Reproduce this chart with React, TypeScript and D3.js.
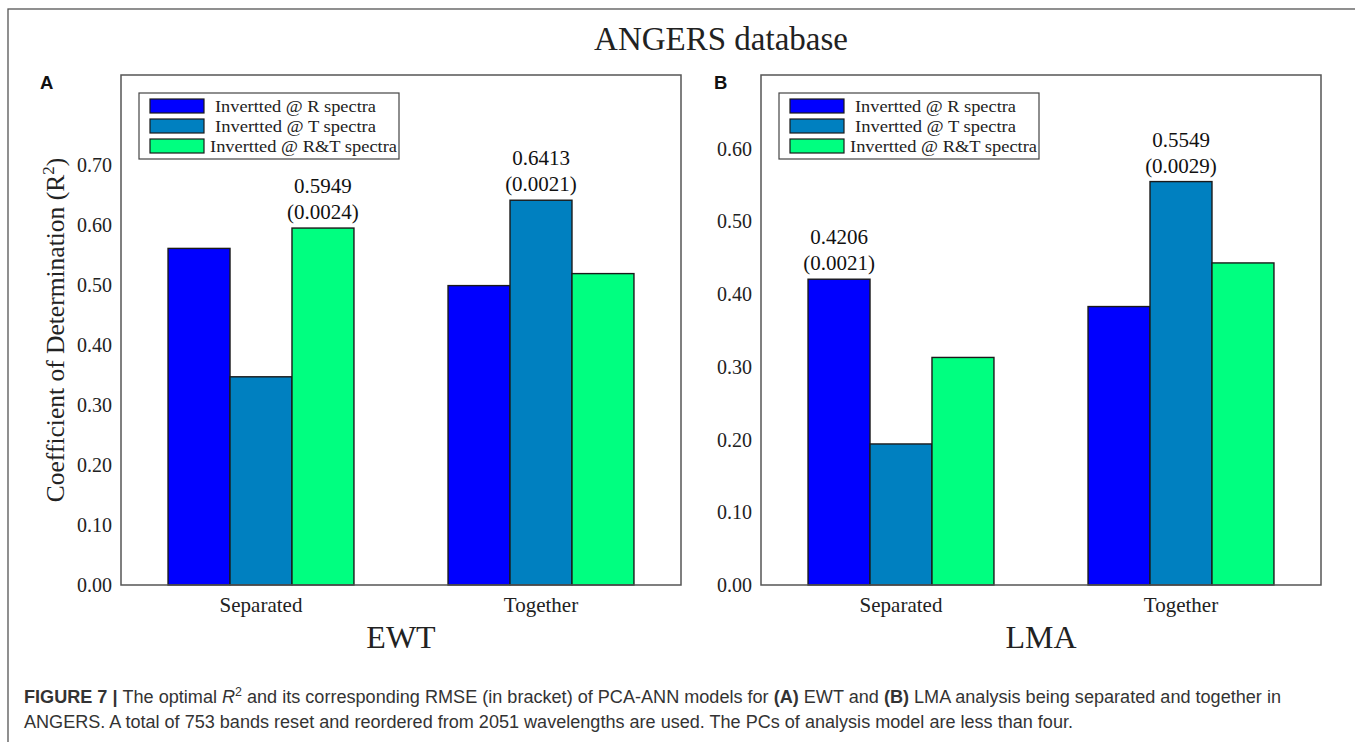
import * as d3 from 'd3';

const groups = ['Separated', 'Together'];
const seriesNames = ['Invertted @ R spectra', 'Invertted @ T spectra', 'Invertted @ R&T spectra'];
const seriesColors = ['#0000ff', '#0080c0', '#00ff80'];

// EWT (panel A), one array per series, values by group
const ewtR = [0.561, 0.499];
const ewtT = [0.347, 0.6413];
const ewtRT = [0.5949, 0.519];

// LMA (panel B)
const lmaR = [0.4206, 0.383];
const lmaT = [0.194, 0.5549];
const lmaRT = [0.313, 0.443];

const ewtTicks = [0, 0.1, 0.2, 0.3, 0.4, 0.5, 0.6, 0.7];
const lmaTicks = [0, 0.1, 0.2, 0.3, 0.4, 0.5, 0.6];

// labels above bars: group index, series index, R2, RMSE
const ewtNotes = [
  { g: 0, s: 2, r2: '0.5949', rmse: '(0.0024)' },
  { g: 1, s: 1, r2: '0.6413', rmse: '(0.0021)' },
];
const lmaNotes = [
  { g: 0, s: 0, r2: '0.4206', rmse: '(0.0021)' },
  { g: 1, s: 1, r2: '0.5549', rmse: '(0.0029)' },
];

const W = 1355;
const H = 742;
const serif = '"Liberation Serif", "Times New Roman", serif';
const sans = '"Liberation Sans", Arial, sans-serif';

interface PanelProps {
  left: number;
  letter: string;
  letterX: number;
  name: string;
  values: number[][];
  yMax: number;
  ticks: number[];
  notes: { g: number; s: number; r2: string; rmse: string }[];
  yTitle?: boolean;
}

const Panel = ({ left, letter, letterX, name, values, yMax, ticks, notes, yTitle }: PanelProps) => {
  const top = 75;
  const pw = 560;
  const ph = 510;

  const y = d3.scaleLinear().domain([0, yMax]).range([ph, 0]);
  const x0 = d3.scaleBand<string>().domain(groups).range([0, pw]).paddingInner(0.336).paddingOuter(0.168);
  const x1 = d3.scaleBand<string>().domain(seriesNames).range([0, x0.bandwidth()]);
  const fmt = d3.format('.2f');

  return (
    <g transform={`translate(${left},${top})`}>
      <text x={letterX} y={14} fontFamily={sans} fontWeight="bold" fontSize={18.5} fill="#111">
        {letter}
      </text>

      {ticks.map((t) => (
        <text
          key={t}
          x={-9}
          y={y(t)}
          dy="0.35em"
          textAnchor="end"
          fontFamily={serif}
          fontSize={20}
          fill="#222"
        >
          {fmt(t)}
        </text>
      ))}

      {groups.map((g, gi) => (
        <g key={g} transform={`translate(${x0(g)},0)`}>
          {seriesNames.map((s, si) => (
            <rect
              key={s}
              x={x1(s)}
              y={y(values[si][gi])}
              width={x1.bandwidth()}
              height={ph - y(values[si][gi])}
              fill={seriesColors[si]}
              stroke="#1a1a1a"
              strokeWidth={1.4}
            />
          ))}
          <text
            x={x0.bandwidth() / 2}
            y={ph + 27}
            textAnchor="middle"
            fontFamily={serif}
            fontSize={21}
            fill="#222"
          >
            {g}
          </text>
        </g>
      ))}

      {notes.map((n) => {
        const cx = (x0(groups[n.g]) ?? 0) + (x1(seriesNames[n.s]) ?? 0) + x1.bandwidth() / 2;
        const ty = y(values[n.s][n.g]);
        return (
          <g key={n.r2} fontFamily={serif} fontSize={21} fill="#111" textAnchor="middle">
            <text x={cx} y={ty - 35}>{n.r2}</text>
            <text x={cx} y={ty - 9}>{n.rmse}</text>
          </g>
        );
      })}

      <rect x={0} y={0} width={pw} height={ph} fill="none" stroke="#555" strokeWidth={1.5} />

      <g transform="translate(18,18)">
        <rect x={0} y={0} width={260} height={66} fill="#fff" stroke="#444" strokeWidth={1.2} />
        {seriesNames.map((s, i) => (
          <g key={s} transform={`translate(0,${6 + i * 20})`}>
            <rect x={11} y={0} width={54} height={14} fill={seriesColors[i]} stroke="#1a1a1a" strokeWidth={1.2} />
            <text
              x={i === 2 ? 71 : 76}
              y={13}
              fontFamily={serif}
              fontSize={17.5}
              fill="#222"
              textLength={i === 2 ? 187 : 161}
              lengthAdjust="spacingAndGlyphs"
            >
              {s}
            </text>
          </g>
        ))}
      </g>

      <text x={pw / 2} y={ph + 63} textAnchor="middle" fontFamily={serif} fontSize={32} fill="#222">
        {name}
      </text>

      {yTitle && (
        <text
          transform={`translate(-57,${ph / 2}) rotate(-90)`}
          textAnchor="middle"
          fontFamily={serif}
          fontSize={25.5}
          fill="#222"
        >
          Coefficient of Determination (R
          <tspan dy={-10} fontSize={17}>2</tspan>
          <tspan dy={10}>)</tspan>
        </text>
      )}
    </g>
  );
};

export default function App() {
  return (
    <svg
      width={W}
      height={H}
      viewBox={`0 0 ${W} ${H}`}
      style={{ position: 'absolute', left: 0, top: 0, background: '#fff' }}
    >
      <rect x={8} y={9} width={1400} height={800} fill="#fff" stroke="#555" strokeWidth={1.3} />

      <text x={721} y={50} textAnchor="middle" fontFamily={serif} fontSize={33} fill="#222">
        ANGERS database
      </text>

      <Panel
        left={121}
        letter="A"
        letterX={-81}
        name="EWT"
        values={[ewtR, ewtT, ewtRT]}
        yMax={0.85}
        ticks={ewtTicks}
        notes={ewtNotes}
        yTitle
      />
      <Panel
        left={761}
        letter="B"
        letterX={-47}
        name="LMA"
        values={[lmaR, lmaT, lmaRT]}
        yMax={0.7015}
        ticks={lmaTicks}
        notes={lmaNotes}
      />

      <g fontFamily={sans} fontSize={17.5} fill="#333">
        <text x={24} y={703} textLength={1257} lengthAdjust="spacingAndGlyphs">
          <tspan fontWeight="bold">FIGURE 7 | </tspan>
          The optimal <tspan fontStyle="italic">R</tspan>
          <tspan dy={-7} fontSize={12}>2</tspan>
          <tspan dy={7}> and its corresponding RMSE (in bracket) of PCA-ANN models for </tspan>
          <tspan fontWeight="bold">(A)</tspan> EWT and <tspan fontWeight="bold">(B)</tspan> LMA analysis
          being separated and together in
        </text>
        <text x={24} y={728} textLength={1049} lengthAdjust="spacingAndGlyphs">
          ANGERS. A total of 753 bands reset and reordered from 2051 wavelengths are used. The PCs of analysis
          model are less than four.
        </text>
      </g>
    </svg>
  );
}
